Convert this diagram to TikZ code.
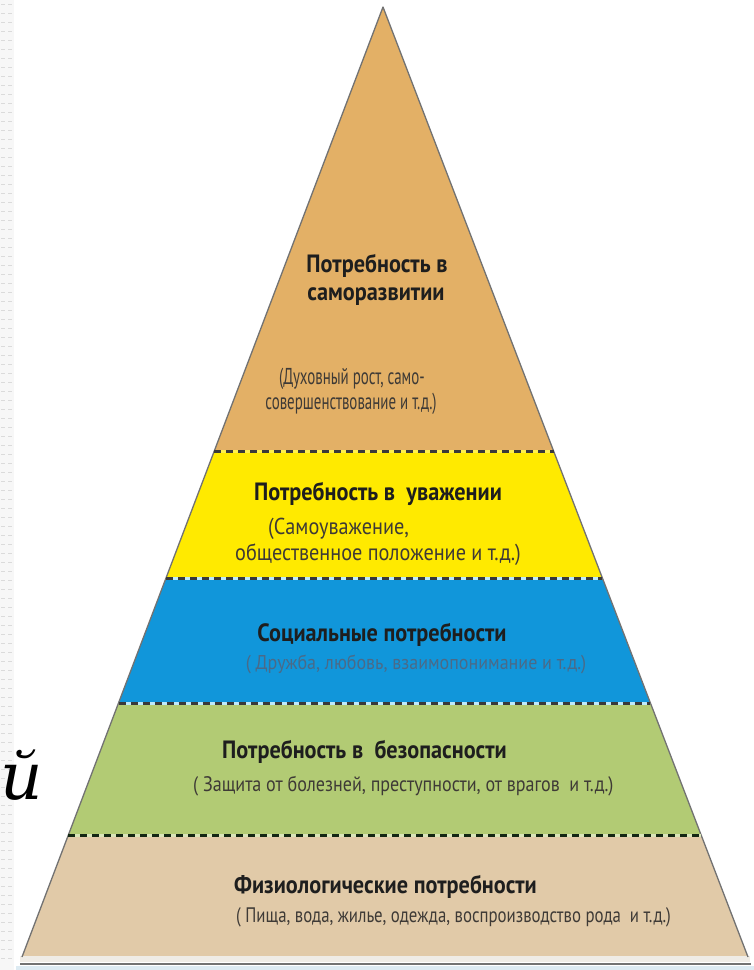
\documentclass[tikz,border=0pt]{standalone}
\usepackage{fontspec}
\setmainfont{Liberation Serif}
\newfontfamily\cond{PT Sans}
\newfontfamily\serifit{DejaVu Serif}
\usetikzlibrary{calc}
\definecolor{lay1}{HTML}{E3B066}
\definecolor{lay2}{HTML}{FFEA00}
\definecolor{lay3}{HTML}{1196DA}
\definecolor{lay4}{HTML}{B2CB74}
\definecolor{lay5}{HTML}{E1CAA8}
\definecolor{edgec}{HTML}{727272}
\definecolor{dashc}{HTML}{3A3A3A}
\definecolor{txt}{HTML}{1E1E1E}
\definecolor{subtxt}{HTML}{3E3A36}
\definecolor{bluesub}{HTML}{4A6A88}
\definecolor{basecream}{HTML}{EFECE6}
\definecolor{baseblue}{HTML}{DCEAF2}
\newcommand{\ttl}[1]{\scalebox{0.89}[1]{#1}}
\newcommand{\sbx}[2]{\scalebox{#1}[1]{#2}}
\begin{document}
\begin{tikzpicture}[x=1pt,y=-1pt,
 title/.style={font=\cond\bfseries\fontsize{25}{27}\selectfont, text=txt, inner sep=0pt},
 sub/.style={font=\cond\fontsize{#1}{#1}\selectfont, text=subtxt, inner sep=0pt},
 subblue/.style={font=\cond\fontsize{#1}{#1}\selectfont, text=bluesub, inner sep=0pt},
 divider/.style={draw=dashc, line width=3pt, dash pattern=on 7pt off 5pt},
 dividerbg/.style={line width=3pt},
]
\useasboundingbox (0,0) rectangle (754,970);
\fill[white] (0,0) rectangle (754,970);
% left strip
\fill[gray!6] (0,0) rectangle (14,970);
\foreach \yy in {4,13,...,966}{\draw[gray!28, line width=0.6pt] (1,\yy) -- (5,\yy) (8,\yy) -- (12,\yy);}

\coordinate (A) at (383,7);
\coordinate (BL) at (22,957);
\coordinate (BR) at (748,957);
\coordinate (L1) at ($(A)!0.46737!(BL)$); \coordinate (R1) at ($(A)!0.46737!(BR)$);
\coordinate (L2) at ($(A)!0.60105!(BL)$); \coordinate (R2) at ($(A)!0.60105!(BR)$);
\coordinate (L3) at ($(A)!0.73263!(BL)$); \coordinate (R3) at ($(A)!0.73263!(BR)$);
\coordinate (L4) at ($(A)!0.87158!(BL)$); \coordinate (R4) at ($(A)!0.87158!(BR)$);

\fill[lay1] (A) -- (R1) -- (L1) -- cycle;
\fill[lay2] (L1) -- (R1) -- (R2) -- (L2) -- cycle;
\fill[lay3] (L2) -- (R2) -- (R3) -- (L3) -- cycle;
\fill[lay4] (L3) -- (R3) -- (R4) -- (L4) -- cycle;
\fill[lay5] (L4) -- (R4) -- (BR) -- (BL) -- cycle;

% base
\fill[basecream] (20,956) rectangle (750,962);
\draw[edgec, line width=2.5pt] (20,964) -- (751,964);
\fill[baseblue] (16,966) rectangle (754,970);

\draw[edgec, line width=1.3pt, line join=round] (BL) -- (A) -- (BR);

\draw[dividerbg, draw=lay2!70!white] (L1) -- (R1); \draw[divider] (L1) -- (R1);
\draw[dividerbg, draw=cyan!25] (L2) -- (R2); \draw[divider] (L2) -- (R2);
\draw[dividerbg, draw=cyan!25] (L3) -- (R3); \draw[divider] (L3) -- (R3);
\draw[dividerbg, draw=lay4!50!white] (L4) -- (R4); \draw[divider, draw=dashc!80!green!40!black] (L4) -- (R4);

\node[title] (t1a) at (377,266) {\ttl{Потребность в}};
\node[title] (t1b) at (376,297) {\ttl{саморазвитии}};
\node[sub=23] (s1a) at (352,379) {\sbx{0.65}{(Духовный рост, само-}};
\node[sub=23] (s1b) at (351,404) {\sbx{0.65}{совершенствование и т.д.)}};

\node[title] (t2) at (378,494) {\ttl{Потребность в\ \ уважении}};
\node[sub=23, anchor=west] (s2a) at (268,529) {\sbx{0.88}{(Самоуважение,}};
\node[sub=23, anchor=west] (s2b) at (235,555) {\sbx{0.88}{общественное положение и т.д.)}};

\node[title] (t3) at (382,635) {\ttl{Социальные потребности}};
\node[subblue=20] (s3) at (416,664) {\sbx{0.9}{( Дружба, любовь, взаимопонимание и т.д.)}};

\node[title, anchor=west] (t4) at (222,752) {\ttl{Потребность в\ \ безопасности}};
\node[sub=21, anchor=west] (s4) at (193,786) {\sbx{0.86}{( Защита от болезней, преступности, от врагов\ \ и т.д.)}};

\node[title, anchor=west] (t5) at (234,887) {\ttl{Физиологические потребности}};
\node[sub=21, anchor=west] (s5) at (236,917) {\sbx{0.8}{( Пища, вода, жилье, одежда, воспроизводство рода\ \ и т.д.)}};

\node[font=\serifit\itshape\fontsize{66}{66}\selectfont, anchor=base west, inner sep=0pt] (jj) at (0,799) {й};
\end{tikzpicture}
\end{document}
